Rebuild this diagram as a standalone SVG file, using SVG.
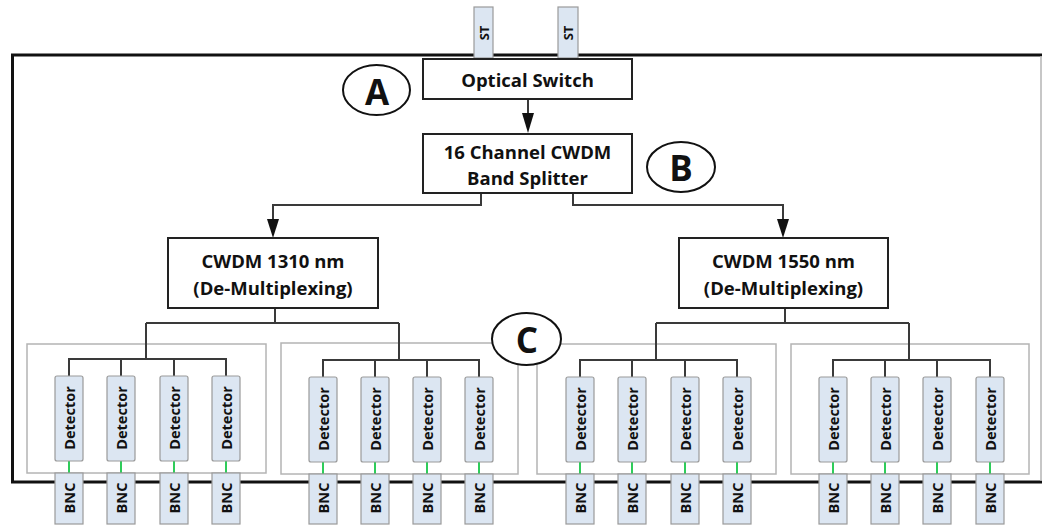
<svg xmlns="http://www.w3.org/2000/svg" width="1042" height="525" viewBox="0 0 1042 525">
<style>
.bg{fill:#ffffff}
.frame{fill:none;stroke:#111;stroke-width:3}
.grp{fill:none;stroke:#b4b4b4;stroke-width:1.5}
.box{fill:#fff;stroke:#222;stroke-width:2}
.lb{fill:#dce6f2;stroke:#9a9a9a;stroke-width:1.2}
.wire{fill:none;stroke:#3a3a3a;stroke-width:2}
.grn{stroke:#2ecc5a;stroke-width:2}
.t{font-family:"Open Sans","Liberation Sans",sans-serif;font-weight:bold;fill:#111;text-anchor:middle;dominant-baseline:central}
.big{font-size:18.5px}
.sm{font-size:14.5px}
.bnc{font-size:14.5px}
.st{font-size:13px}
.lab{font-size:35px}
.ell{fill:#fff;stroke:#111;stroke-width:2}
</style>
<rect class="bg" width="1042" height="525"/>
<rect class="frame" x="12.5" y="55" width="1040" height="427"/>
<line x1="1041" y1="56" x2="1041" y2="481" stroke="#b4b4b4" stroke-width="1.5"/>

<g id="groups">
<rect class="grp" x="27" y="344" width="239" height="129"/>
<rect class="grp" x="281" y="343" width="237" height="131"/>
<rect class="grp" x="537" y="344" width="239" height="130"/>
<rect class="grp" x="791" y="344" width="238" height="130"/>
</g>

<g id="connectors">
<line class="wire" x1="528" y1="99" x2="528" y2="115"/>
<path d="M522,113 L534,113 L528,133 Z" fill="#111"/>
<path class="wire" d="M481,193 V205 H273 V220"/>
<path d="M267,219 L279,219 L273,238 Z" fill="#111"/>
<path class="wire" d="M573,193 V205 H783 V220"/>
<path d="M777,219 L789,219 L783,238 Z" fill="#111"/>
<path class="wire" d="M275,308 V323 M146,323 H399 M146,323 V359 M399,323 V360"/>
<path class="wire" d="M785,308 V323 M656,323 H909 M656,323 V360 M909,323 V360"/>
<path class="wire" d="M69,376 V359 H226 V376 M121,359 V376 M174,359 V376"/>
<path class="wire" d="M323,377 V360 H479 V377 M375,360 V377 M427,360 V377"/>
<path class="wire" d="M580,377 V360 H737 V377 M632,360 V377 M685,360 V377"/>
<path class="wire" d="M833,377 V360 H990 V377 M885,360 V377 M937,360 V377"/>
<path class="grn" d="M69,461 V473 M121,461 V473 M174,461 V473 M226,461 V473 M323,462 V474 M375,462 V474 M427,462 V474 M479,462 V474 M580,462 V474 M632,462 V474 M685,462 V474 M737,462 V474 M833,462 V474 M885,462 V474 M937,462 V474 M990,462 V474"/>
</g>

<g id="st1"><rect class="lb" x="474" y="7" width="19" height="51"/><text class="t st" transform="translate(483.5,33) rotate(-90)">ST</text></g>
<g id="st2"><rect class="lb" x="558" y="7" width="20" height="51"/><text class="t st" transform="translate(568,33) rotate(-90)">ST</text></g>

<g id="optical-switch"><rect class="box" x="423" y="59" width="209" height="40"/><text class="t big" x="527.5" y="79">Optical Switch</text></g>
<g id="band-splitter"><rect class="box" x="423" y="134" width="209" height="59"/><text class="t big" x="527.5" y="151">16 Channel CWDM</text><text class="t big" x="527.5" y="177">Band Splitter</text></g>
<g id="cwdm-1310"><rect class="box" x="168" y="238" width="210" height="70"/><text class="t big" x="273" y="260">CWDM 1310 nm</text><text class="t big" x="273" y="287">(De-Multiplexing)</text></g>
<g id="cwdm-1550"><rect class="box" x="679" y="238" width="209" height="70"/><text class="t big" x="783.5" y="260">CWDM 1550 nm</text><text class="t big" x="783.5" y="287">(De-Multiplexing)</text></g>

<g id="label-a"><ellipse class="ell" cx="376.5" cy="90" rx="33.5" ry="25"/><text class="t lab" x="377" y="91">A</text></g>
<g id="label-b"><ellipse class="ell" cx="681" cy="167" rx="34" ry="25"/><text class="t lab" x="681" y="167">B</text></g>
<g id="label-c"><ellipse class="ell" cx="526.5" cy="339" rx="34.5" ry="26"/><text class="t lab" x="527" y="339">C</text></g>

<g id="detectors">
<g id="d1"><rect class="lb" x="55" y="376" width="28" height="85" rx="2"/><text class="t sm" transform="translate(69,418) rotate(-90)">Detector</text></g>
<g id="d2"><rect class="lb" x="107" y="376" width="28" height="85" rx="2"/><text class="t sm" transform="translate(121,418) rotate(-90)">Detector</text></g>
<g id="d3"><rect class="lb" x="160" y="376" width="28" height="85" rx="2"/><text class="t sm" transform="translate(174,418) rotate(-90)">Detector</text></g>
<g id="d4"><rect class="lb" x="212" y="376" width="28" height="85" rx="2"/><text class="t sm" transform="translate(226,418) rotate(-90)">Detector</text></g>
<g id="d5"><rect class="lb" x="309" y="377" width="28" height="85" rx="2"/><text class="t sm" transform="translate(323,419) rotate(-90)">Detector</text></g>
<g id="d6"><rect class="lb" x="361" y="377" width="28" height="85" rx="2"/><text class="t sm" transform="translate(375,419) rotate(-90)">Detector</text></g>
<g id="d7"><rect class="lb" x="413" y="377" width="28" height="85" rx="2"/><text class="t sm" transform="translate(427,419) rotate(-90)">Detector</text></g>
<g id="d8"><rect class="lb" x="465" y="377" width="28" height="85" rx="2"/><text class="t sm" transform="translate(479,419) rotate(-90)">Detector</text></g>
<g id="d9"><rect class="lb" x="566" y="377" width="28" height="85" rx="2"/><text class="t sm" transform="translate(580,419) rotate(-90)">Detector</text></g>
<g id="d10"><rect class="lb" x="618" y="377" width="28" height="85" rx="2"/><text class="t sm" transform="translate(632,419) rotate(-90)">Detector</text></g>
<g id="d11"><rect class="lb" x="671" y="377" width="28" height="85" rx="2"/><text class="t sm" transform="translate(685,419) rotate(-90)">Detector</text></g>
<g id="d12"><rect class="lb" x="723" y="377" width="28" height="85" rx="2"/><text class="t sm" transform="translate(737,419) rotate(-90)">Detector</text></g>
<g id="d13"><rect class="lb" x="819" y="377" width="28" height="85" rx="2"/><text class="t sm" transform="translate(833,419) rotate(-90)">Detector</text></g>
<g id="d14"><rect class="lb" x="871" y="377" width="28" height="85" rx="2"/><text class="t sm" transform="translate(885,419) rotate(-90)">Detector</text></g>
<g id="d15"><rect class="lb" x="923" y="377" width="28" height="85" rx="2"/><text class="t sm" transform="translate(937,419) rotate(-90)">Detector</text></g>
<g id="d16"><rect class="lb" x="976" y="377" width="28" height="85" rx="2"/><text class="t sm" transform="translate(990,419) rotate(-90)">Detector</text></g>
</g>

<g id="bncs">
<g id="b1"><rect class="lb" x="55" y="473" width="28" height="51"/><text class="t bnc" transform="translate(69,498) rotate(-90)">BNC</text></g>
<g id="b2"><rect class="lb" x="107" y="473" width="28" height="51"/><text class="t bnc" transform="translate(121,498) rotate(-90)">BNC</text></g>
<g id="b3"><rect class="lb" x="160" y="473" width="28" height="51"/><text class="t bnc" transform="translate(174,498) rotate(-90)">BNC</text></g>
<g id="b4"><rect class="lb" x="212" y="473" width="28" height="51"/><text class="t bnc" transform="translate(226,498) rotate(-90)">BNC</text></g>
<g id="b5"><rect class="lb" x="309" y="474" width="28" height="50"/><text class="t bnc" transform="translate(323,498) rotate(-90)">BNC</text></g>
<g id="b6"><rect class="lb" x="361" y="474" width="28" height="50"/><text class="t bnc" transform="translate(375,498) rotate(-90)">BNC</text></g>
<g id="b7"><rect class="lb" x="413" y="474" width="28" height="50"/><text class="t bnc" transform="translate(427,498) rotate(-90)">BNC</text></g>
<g id="b8"><rect class="lb" x="465" y="474" width="28" height="50"/><text class="t bnc" transform="translate(479,498) rotate(-90)">BNC</text></g>
<g id="b9"><rect class="lb" x="566" y="474" width="28" height="50"/><text class="t bnc" transform="translate(580,498) rotate(-90)">BNC</text></g>
<g id="b10"><rect class="lb" x="618" y="474" width="28" height="50"/><text class="t bnc" transform="translate(632,498) rotate(-90)">BNC</text></g>
<g id="b11"><rect class="lb" x="671" y="474" width="28" height="50"/><text class="t bnc" transform="translate(685,498) rotate(-90)">BNC</text></g>
<g id="b12"><rect class="lb" x="723" y="474" width="28" height="50"/><text class="t bnc" transform="translate(737,498) rotate(-90)">BNC</text></g>
<g id="b13"><rect class="lb" x="819" y="474" width="28" height="50"/><text class="t bnc" transform="translate(833,498) rotate(-90)">BNC</text></g>
<g id="b14"><rect class="lb" x="871" y="474" width="28" height="50"/><text class="t bnc" transform="translate(885,498) rotate(-90)">BNC</text></g>
<g id="b15"><rect class="lb" x="923" y="474" width="28" height="50"/><text class="t bnc" transform="translate(937,498) rotate(-90)">BNC</text></g>
<g id="b16"><rect class="lb" x="976" y="474" width="28" height="50"/><text class="t bnc" transform="translate(990,498) rotate(-90)">BNC</text></g>
</g>
</svg>
